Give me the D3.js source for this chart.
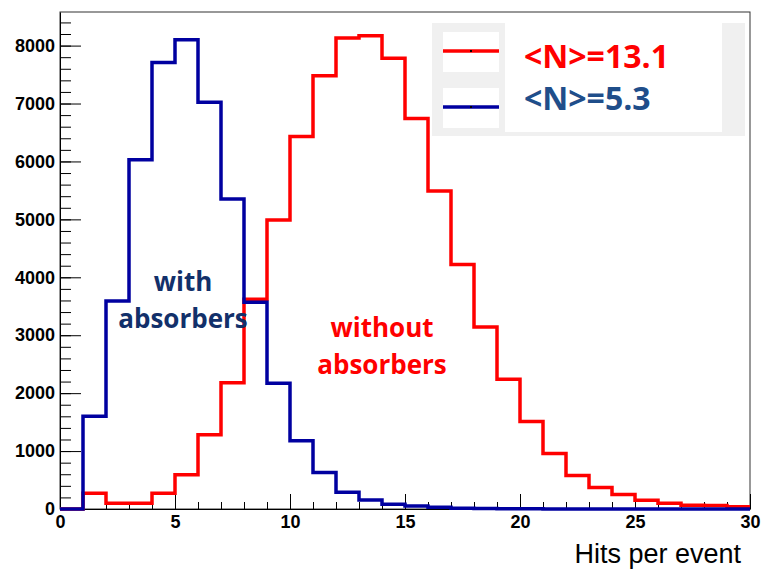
<!DOCTYPE html>
<html>
<head>
<meta charset="utf-8">
<script src="https://cdn.jsdelivr.net/npm/d3@7"></script>
<style>
  body { margin: 0; background: #fff; }
  svg { display: block; }
  .tick text { font-family: "Liberation Sans", Arial, sans-serif; font-weight: bold; font-size: 18px; fill: #000; }
</style>
</head>
<body>
<script>
// bin edges 0..30, one entry per bin of width 1
const binStarts = d3.range(0, 30);

// counts
const withoutAbsorbers = [0, 270, 100, 100, 270, 590, 1280, 2180, 3620, 4990,
  6430, 7480, 8130, 8170, 7780, 6740, 5490, 4220, 3140, 2240,
  1510, 960, 580, 370, 250, 150, 100, 65, 60, 40];
const withAbsorbers = [0, 1600, 3590, 6030, 7710, 8100, 7020, 5350, 3570, 2170,
  1180, 630, 290, 155, 80, 50, 30, 15, 10, 5,
  3, 2, 1, 1, 0, 0, 0, 0, 0, 0];

const legendLabels = ["<N>=13.1", "<N>=5.3"];
const xMajorTicks = [0, 5, 10, 15, 20, 25, 30];
const yMajorTicks = [0, 1000, 2000, 3000, 4000, 5000, 6000, 7000, 8000];

const width = 761, height = 569;
const margin = { top: 12, right: 11, bottom: 60, left: 60 };

const svg = d3.select("body").append("svg")
    .attr("width", width)
    .attr("height", height);

const x = d3.scaleLinear().domain([0, 30]).range([margin.left, width - margin.right]);
const y = d3.scaleLinear().domain([0, 8580]).range([height - margin.bottom, margin.top]);

// frame
svg.append("rect")
    .attr("x", x(0)).attr("y", y(8580))
    .attr("width", x(30) - x(0)).attr("height", y(0) - y(8580))
    .attr("fill", "none").attr("stroke", "#333").attr("stroke-width", 1);

// minor ticks first, then majors with labels
svg.append("g")
    .attr("transform", `translate(0,${y(0)})`)
    .call(d3.axisBottom(x).tickValues(d3.range(0, 31)).tickSizeInner(-7).tickSizeOuter(0).tickFormat(""))
    .call(g => g.select(".domain").remove())
    .call(g => g.selectAll("line").attr("stroke", "#000"));

svg.append("g")
    .attr("transform", `translate(0,${y(0)})`)
    .call(d3.axisBottom(x).tickValues(xMajorTicks).tickSizeInner(-15).tickSizeOuter(0).tickPadding(6).tickFormat(d3.format("d")))
    .call(g => g.select(".domain").attr("stroke", "#000"))
    .call(g => g.selectAll("line").attr("stroke", "#000"));

svg.append("g")
    .attr("transform", `translate(${x(0)},0)`)
    .call(d3.axisLeft(y).tickValues(d3.range(0, 8581, 200)).tickSizeInner(-11).tickSizeOuter(0).tickFormat(""))
    .call(g => g.select(".domain").remove())
    .call(g => g.selectAll("line").attr("stroke", "#000"));

svg.append("g")
    .attr("transform", `translate(${x(0)},0)`)
    .call(d3.axisLeft(y).tickValues(yMajorTicks).tickSizeInner(-21).tickSizeOuter(0).tickPadding(5).tickFormat(d3.format("d")))
    .call(g => g.select(".domain").attr("stroke", "#000"))
    .call(g => g.selectAll("line").attr("stroke", "#000"));

// step outline: bin edges plus the closing edge at 30
function stepPoints(vals) {
    const pts = binStarts.map(i => [i, vals[i]]);
    pts.push([30, vals[vals.length - 1]]);
    return pts;
}

const stepLine = d3.line()
    .x(d => x(d[0]))
    .y(d => y(d[1]))
    .curve(d3.curveStepAfter);

svg.append("path")
    .datum(stepPoints(withoutAbsorbers))
    .attr("d", stepLine)
    .attr("fill", "none")
    .attr("stroke", "#ff0000")
    .attr("stroke-width", 3.5);

svg.append("path")
    .datum(stepPoints(withAbsorbers))
    .attr("d", stepLine)
    .attr("fill", "none")
    .attr("stroke", "#0000a0")
    .attr("stroke-width", 3.5);

// legend
svg.append("rect").attr("x", 432).attr("y", 23).attr("width", 313).attr("height", 113).attr("fill", "#f0f0f0");
svg.append("rect").attr("x", 505).attr("y", 23).attr("width", 217).attr("height", 109).attr("fill", "#fff");

const legendColors = ["#ff0000", "#0000a0"];
const legendText = ["#ff0000", "#1f4e8a"];
const legendBaselines = [68, 110];
legendLabels.forEach((lab, i) => {
    const cy = 51 + i * 56;
    svg.append("rect").attr("x", 443).attr("y", cy - 19).attr("width", 56).attr("height", 40).attr("fill", "#fff");
    svg.append("line").attr("x1", 443).attr("x2", 499).attr("y1", cy).attr("y2", cy)
        .attr("stroke", legendColors[i]).attr("stroke-width", 3.5);
    svg.append("rect").attr("x", 470).attr("y", cy - 1).attr("width", 2).attr("height", 2).attr("fill", "#000");
    svg.append("text")
        .attr("x", 524).attr("y", legendBaselines[i])
        .attr("font-family", "'Open Sans', sans-serif")
        .attr("font-weight", "bold")
        .attr("font-size", 32)
        .attr("fill", legendText[i])
        .text(lab);
});

// annotations
function note(lines, cx, baseline, color) {
    lines.forEach((t, i) => {
        svg.append("text")
            .attr("x", cx).attr("y", baseline + i * 37)
            .attr("text-anchor", "middle")
            .attr("font-family", "'Open Sans', sans-serif")
            .attr("font-weight", "bold")
            .attr("font-size", 26)
            .attr("fill", color)
            .text(t);
    });
}
note(["with", "absorbers"], 183, 291, "#12306a");
note(["without", "absorbers"], 382, 337, "#ff0000");

// x axis title
svg.append("text")
    .attr("x", 741).attr("y", 563)
    .attr("text-anchor", "end")
    .attr("font-family", "'Liberation Sans', Arial, sans-serif")
    .attr("font-size", 27)
    .attr("fill", "#000")
    .text("Hits per event");
</script>
</body>
</html>
